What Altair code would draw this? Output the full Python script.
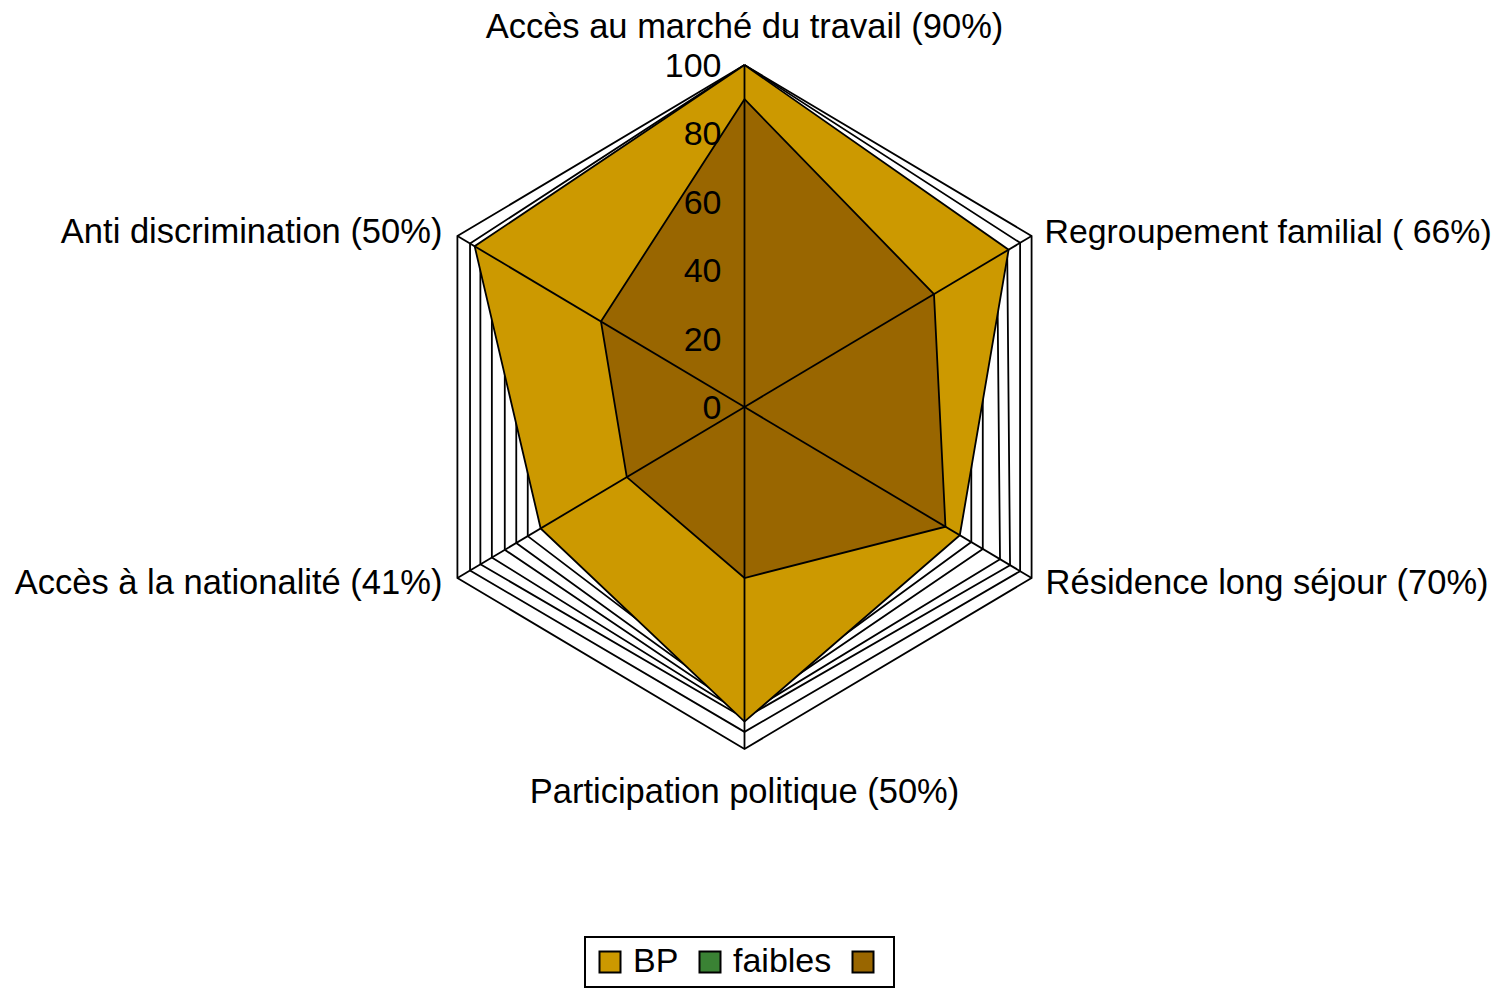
import altair as alt
import pandas as pd

# ---- data ----
axes_labels = [
    "Accès au marché du travail (90%)",
    "Regroupement familial ( 66%)",
    "Résidence long séjour (70%)",
    "Participation politique (50%)",
    "Accès à la nationalité (41%)",
    "Anti discrimination (50%)",
]
bp = [100, 92, 75, 92, 71, 94]
pays = [90, 66, 70, 50, 41, 50]
# other series (white fill, black outline), drawn largest first
autres = [
    [100, 100, 100, 100, 100, 100],
    [100, 96, 96, 95, 95.6, 95.6],
    [99, 91.5, 92.5, 91, 92, 92],
    [98, 88, 89, 90, 88, 88],
    [97, 83, 83, 89, 83.5, 83.5],
    [96, 79, 79, 88, 79.5, 79.5],
    [95, 74, 74, 86, 75.5, 75.5],
]
ticks = [0, 20, 40, 60, 80, 100]
series_names = ["BP", "faibles", " "]
series_colors = ["#CC9900", "#3A8234", "#996600"]

FONT = "Liberation Sans"
FS = 34.5
SW = 1.8


def poly_df(name, vals):
    return pd.DataFrame({"serie": [name] * 7, "i": list(range(7)),
                         "v": [vals[i % 6] for i in range(7)]})


xs = alt.Scale(domain=[-100, 100], nice=False, zero=False)
ys = alt.Scale(domain=[-100, 100], nice=False, zero=False)
calc = dict(x="datum.v*sin(datum.i*PI/3)", y="datum.v*cos(datum.i*PI/3)")

layers = []
for k, vals in enumerate(autres):
    layers.append(
        alt.Chart(poly_df(f"w{k}", vals)).transform_calculate(**calc)
        .mark_line(fill="white", stroke="black", strokeWidth=SW)
        .encode(x=alt.X("x:Q", scale=xs, axis=None),
                y=alt.Y("y:Q", scale=ys, axis=None),
                order="i:Q")
    )

fill_enc = alt.Fill(
    "serie:N",
    scale=alt.Scale(domain=series_names, range=series_colors),
    legend=alt.Legend(
        title=None, orient="none", legendX=172, legendY=872,
        direction="horizontal", symbolType="square", symbolSize=441,
        symbolStrokeColor="black", symbolStrokeWidth=2,
        symbolOpacity=1,
        labelFont=FONT, labelFontSize=34, labelColor="black",
        labelOffset=6, columnPadding=14, padding=8,
        strokeColor="black",
    ),
)

for name, vals in [("BP", bp), (" ", pays)]:
    layers.append(
        alt.Chart(poly_df(name, vals)).transform_calculate(**calc)
        .mark_line(stroke="black", strokeWidth=SW)
        .encode(x=alt.X("x:Q", scale=xs, axis=None),
                y=alt.Y("y:Q", scale=ys, axis=None),
                order="i:Q", fill=fill_enc)
    )

spokes_df = pd.DataFrame({"i": list(range(6)), "v": [100] * 6})
layers.append(
    alt.Chart(spokes_df).transform_calculate(x0="0", y0="0", **calc)
    .mark_rule(color="black", strokeWidth=SW)
    .encode(x="x0:Q", y="y0:Q", x2="x:Q", y2="y:Q")
)

tick_df = pd.DataFrame({"t": ticks})
layers.append(
    alt.Chart(tick_df).transform_calculate(x0="0")
    .mark_text(align="right", baseline="middle", dx=-23, dy=2, font=FONT, fontSize=34, color="black")
    .encode(x="x0:Q", y="t:Q", text="t:Q")
)

lab_df = pd.DataFrame({"i": list(range(6)), "v": [100] * 6, "label": axes_labels,
                       "fs": [FS, 33.8, FS, FS, FS, FS]})
groups = [
    ([0], dict(align="center", baseline="middle", dx=0, dy=-37)),
    ([3], dict(align="center", baseline="middle", dx=0, dy=44)),
    ([1], dict(align="left", baseline="middle", dx=13, dy=-3)),
    ([2], dict(align="left", baseline="middle", dx=14, dy=6)),
    ([4], dict(align="right", baseline="middle", dx=-15, dy=6)),
    ([5], dict(align="right", baseline="middle", dx=-15, dy=-3)),
]
for idx, props in groups:
    layers.append(
        alt.Chart(lab_df).transform_filter(alt.FieldOneOfPredicate(field="i", oneOf=idx))
        .transform_calculate(**calc)
        .mark_text(font=FONT, color="black", **props)
        .encode(x="x:Q", y="y:Q", text="label:N",
                size=alt.Size("fs:Q", scale=None, legend=None))
    )

chart = alt.layer(*layers).properties(
    width=663, height=684,
    autosize=alt.AutoSizeParams(type="none"),
    padding={"left": 405, "top": 57, "right": 419, "bottom": 240},
).configure_view(stroke=None).configure_legend(strokeWidth=2)

chart.save("out.html", embed_options={"renderer": "svg", "actions": False})
